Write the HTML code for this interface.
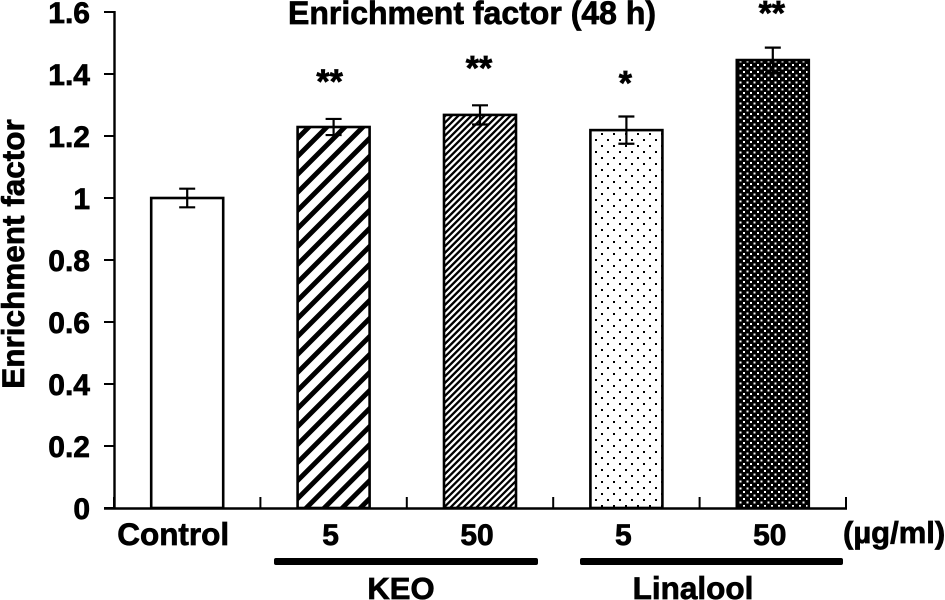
<!DOCTYPE html>
<html>
<head>
<meta charset="utf-8">
<style>
html,body{margin:0;padding:0;background:#fff;}
svg{display:block;}
text{font-family:"Liberation Sans",Arial,sans-serif;font-weight:bold;fill:#000;stroke:#000;stroke-width:.7px;}
</style>
</head>
<body>
<svg id="chart" width="945" height="600" viewBox="0 0 945 600" xmlns="http://www.w3.org/2000/svg">
<defs>
<pattern id="p-wide" patternUnits="userSpaceOnUse" width="13" height="13" patternTransform="rotate(-45) scale(.98)">
<rect width="13" height="13" fill="#fff"/><rect width="13" height="5" fill="#000"/>
</pattern>
<pattern id="p-narrow" patternUnits="userSpaceOnUse" width="4.6" height="4.6" patternTransform="rotate(-45)">
<rect width="4.6" height="4.6" fill="#fff"/><rect width="4.6" height="2.3" fill="#000"/>
</pattern>
<pattern id="p-sparse" patternUnits="userSpaceOnUse" width="12" height="12">
<rect width="12" height="12" fill="#fff"/><rect x="1" y="1" width="2" height="2" fill="#000"/><rect x="7" y="7" width="2" height="2" fill="#000"/>
</pattern>
<pattern id="p-dense" patternUnits="userSpaceOnUse" width="7" height="7">
<rect width="7" height="7" fill="#000"/><rect x="1" y="1" width="2" height="2" fill="#fff"/><rect x="4.5" y="4.5" width="2" height="2" fill="#fff"/>
</pattern>
</defs>
<text x="472" y="24" text-anchor="middle" font-size="32">Enrichment factor (48 h)</text>
<text transform="translate(24,254) rotate(-90)" text-anchor="middle" font-size="31.5">Enrichment factor</text>
<g id="marks"></g>
<line x1="114.5" y1="11" x2="114.5" y2="509" stroke="#000" stroke-width="2.4"/>
<line x1="104" y1="508.5" x2="847" y2="508.5" stroke="#000" stroke-width="2.4"/>
<g id="axes"></g>
<text x="843" y="543" font-size="31">(µg/ml)</text>
<rect x="274" y="558" width="264" height="7" rx="2" fill="#000"/>
<rect x="580" y="558" width="263" height="7" rx="2" fill="#000"/>
<text x="401" y="599" text-anchor="middle" font-size="31">KEO</text>
<text x="693" y="599" text-anchor="middle" font-size="31.5">Linalool</text>
</svg>
<script>
var categories = ['Control', '5', '50', '5', '50'];
var values = [1.0, 1.229, 1.268, 1.219, 1.445];
var errors = [0.03, 0.026, 0.031, 0.044, 0.04];
var significance = ['', '**', '**', '*', '**'];
var fills = ['#fff', 'url(#p-wide)', 'url(#p-narrow)', 'url(#p-sparse)', 'url(#p-dense)'];
var yTicks = [0, 0.2, 0.4, 0.6, 0.8, 1, 1.2, 1.4, 1.6];
var yTickLabels = ['0', '0.2', '0.4', '0.6', '0.8', '1', '1.2', '1.4', '1.6'];
var sigOffsets = [0, 55, 55, 51, 52];

var NS = 'http://www.w3.org/2000/svg';
var marks = document.getElementById('marks');
var axes = document.getElementById('axes');
function yScale(v) { return 508 - v * 310; }
function band() { return 146.4; }
function xCenter(i) { return 114 + band() * (i + 0.5); }
function make(parent, tag, attrs) {
  var el = document.createElementNS(NS, tag);
  for (var k in attrs) el.setAttribute(k, attrs[k]);
  parent.appendChild(el);
  return el;
}
var barWidth = 72;
categories.forEach(function (c, i) {
  var x = xCenter(i), top = yScale(values[i]);
  var bar = make(marks, 'rect', { x: x - barWidth / 2, y: top, width: barWidth, height: 508 - top, fill: fills[i], stroke: '#000', 'stroke-width': 2.6 });
  
  
  var hi = yScale(values[i] + errors[i]), lo = yScale(values[i] - errors[i]);
  var err = make(marks, 'path', {
    d: 'M' + x + ' ' + hi + 'V' + lo + 'M' + (x - 8) + ' ' + hi + 'H' + (x + 8) + 'M' + (x - 8) + ' ' + lo + 'H' + (x + 8),
    fill: 'none', stroke: '#000', 'stroke-width': 2.2
  });
  
  
  if (significance[i]) {
    var s = make(marks, 'text', { x: x - (i === 1 ? 4 : 1), y: hi - sigOffsets[i] + 29, 'text-anchor': 'middle', 'font-size': 34 });
    s.textContent = significance[i];
    
    
  }
  var t = make(axes, 'text', { x: i === 0 ? x - 14 : x - 3, y: 545, 'text-anchor': 'middle', 'font-size': i === 0 ? 31.5 : 30 });
  t.textContent = c;
  
  
});
for (var i = 0; i <= categories.length; i++) {
  var tx = 114 + band() * i;
  var tick = make(axes, 'line', { x1: tx, y1: 508, x2: tx, y2: 497, stroke: '#000', 'stroke-width': 2 });
  
  
}
yTicks.forEach(function (v, i) {
  var y = yScale(v);
  var tick = make(axes, 'line', { x1: 104, y1: y, x2: 115, y2: y, stroke: '#000', 'stroke-width': 2 });
  
  
  var t = make(axes, 'text', { x: 90, y: y + 11, 'text-anchor': 'end', 'font-size': 30 });
  t.textContent = yTickLabels[i];
  
  
});
</script>
</body>
</html>
